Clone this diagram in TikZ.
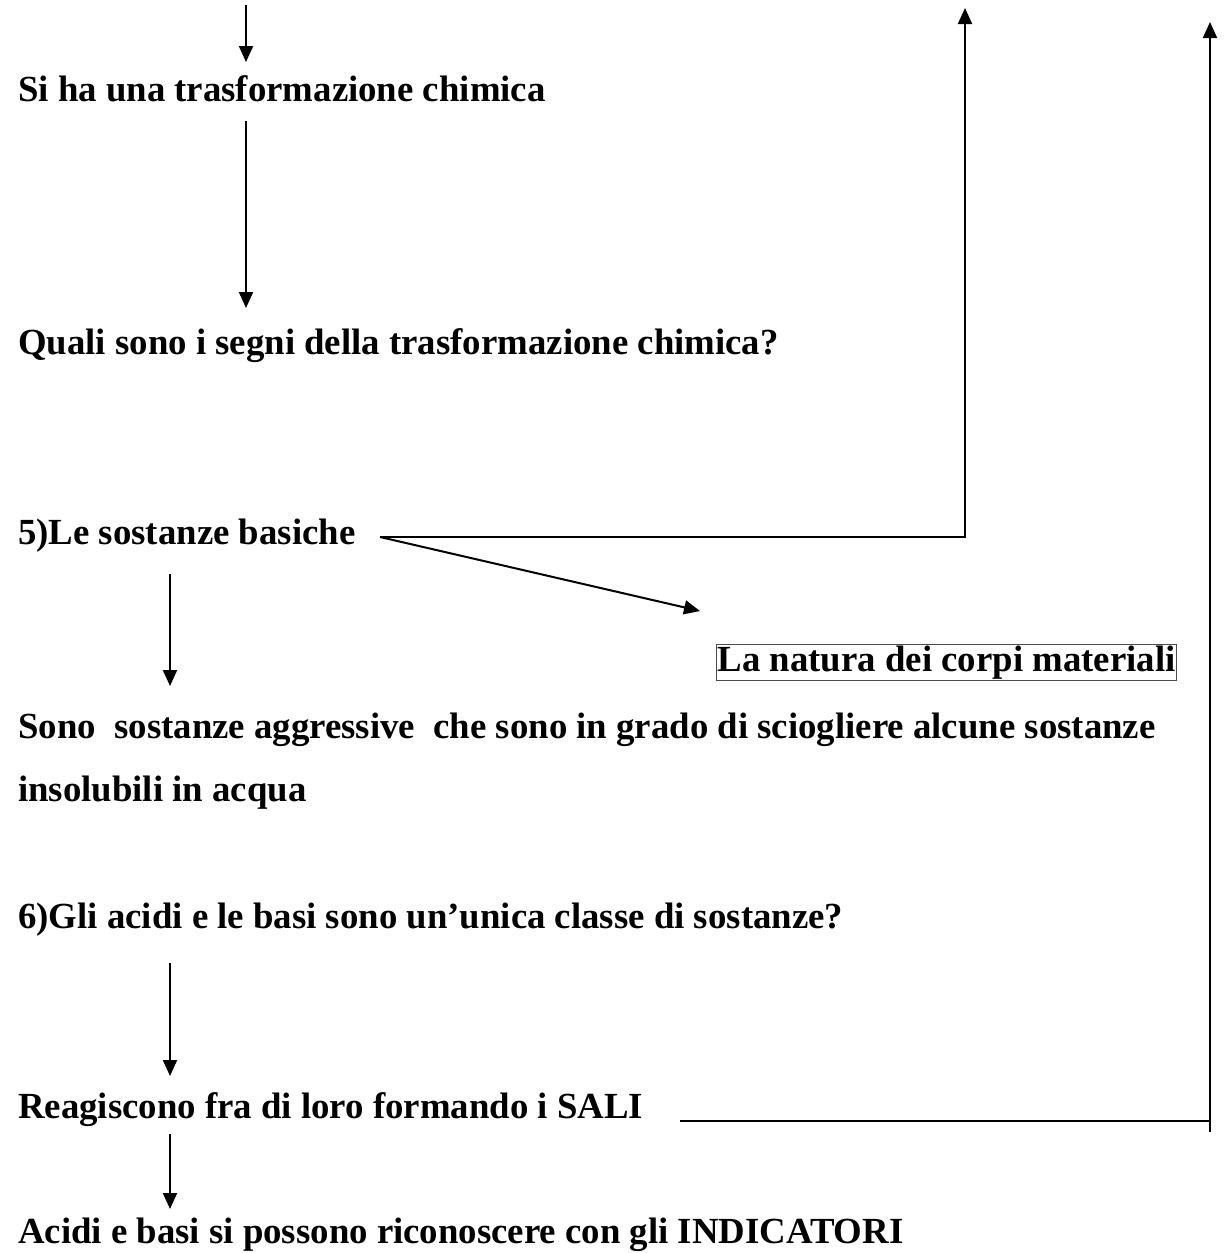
\documentclass[tikz,border=0pt]{standalone}
\usepackage{fontspec}
\setmainfont{Liberation Serif}
\usetikzlibrary{arrows.meta}
\begin{document}
\begin{tikzpicture}[x=1pt,y=-1pt,
  txt/.style={anchor=base west,inner sep=0pt,font=\fontsize{36.8}{42}\selectfont\bfseries},
  arr/.style={line width=2pt,-{Triangle[length=16pt,width=14pt]}},
  ln/.style={line width=2pt}]
\useasboundingbox (0,0) rectangle (1225,1253);
\node[txt] (t1) at (18,101) {Si ha una trasformazione chimica};
\node[txt] (t2) at (18,354) {Quali sono i segni della trasformazione chimica?};
\node[txt] (t3) at (18,544) {5)Le sostanze basiche};
\node[txt] (t4) at (18,738) {Sono\ \ sostanze aggressive\ \ che sono in grado di sciogliere alcune sostanze};
\node[txt] (t5) at (18,801) {insolubili in acqua};
\node[txt] (t6) at (18,928) {6)Gli acidi e le basi sono un’unica classe di sostanze?};
\node[txt] (t7) at (18,1118) {Reagiscono fra di loro formando i SALI};
\node[txt] (t8) at (18,1243) {Acidi e basi si possono riconoscere con gli INDICATORI};
\node[txt,draw=black!70,line width=1pt,inner sep=1.2pt] (box) at (716,671) {La natura dei corpi materiali};
% coordinates
\coordinate (a0) at (246,5);   \coordinate (a1) at (246,62);
\coordinate (b0) at (246,121); \coordinate (b1) at (246,308);
\coordinate (c0) at (380,537); \coordinate (c1) at (965,537); \coordinate (c2) at (965,8);
\coordinate (d1) at (700,611);
\coordinate (e0) at (170,574); \coordinate (e1) at (170,686);
\coordinate (f0) at (170,963); \coordinate (f1) at (170,1076);
\coordinate (g0) at (170,1134); \coordinate (g1) at (170,1209);
\coordinate (h0) at (680,1121); \coordinate (h1) at (1210,1121);
\coordinate (h2) at (1210,1132); \coordinate (h3) at (1210,22);
\draw[arr] (a0) -- (a1);
\draw[arr] (b0) -- (b1);
\draw[arr] (c0) -- (c1) -- (c2);
\draw[arr] (c0) -- (d1);
\draw[arr] (e0) -- (e1);
\draw[arr] (f0) -- (f1);
\draw[arr] (g0) -- (g1);
\draw[ln] (h0) -- (h1);
\draw[arr] (h2) -- (h3);
\end{tikzpicture}
\end{document}
